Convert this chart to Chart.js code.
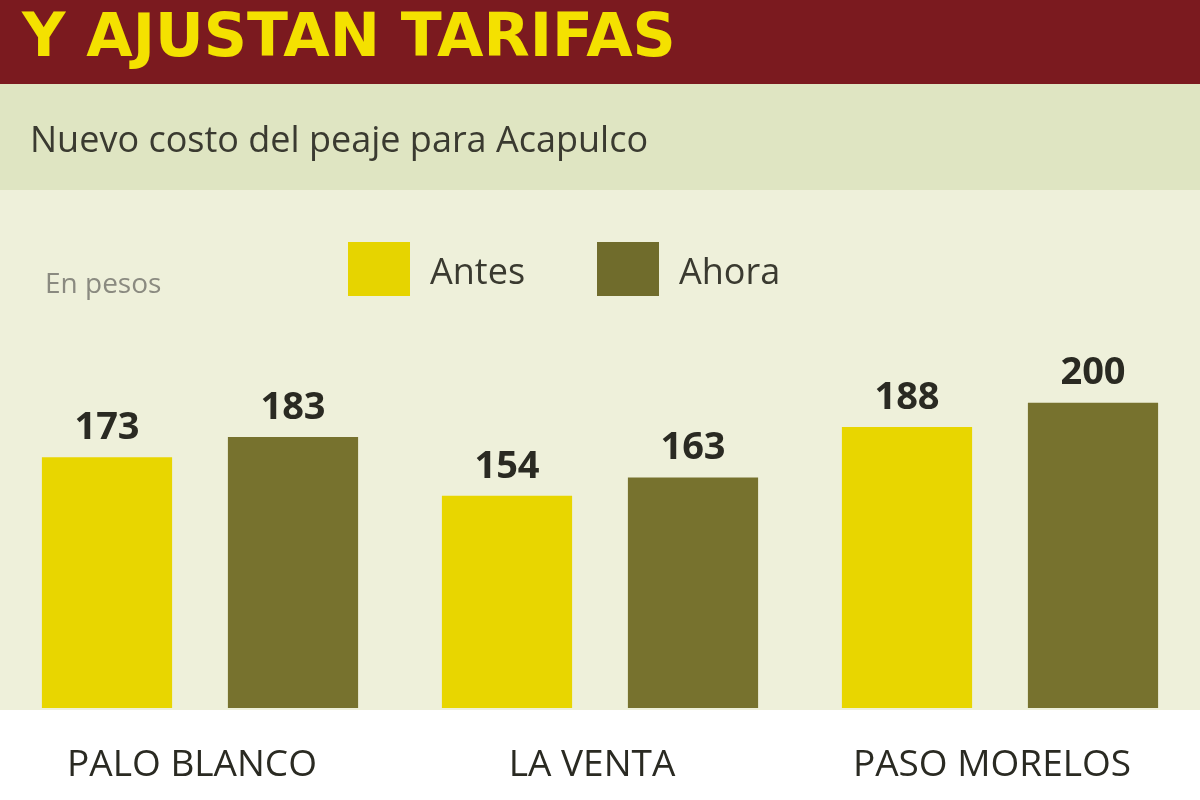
<!DOCTYPE html>
<html><head><meta charset="utf-8">
<script src="https://cdn.jsdelivr.net/npm/chart.js@4/dist/chart.umd.min.js"></script>
<style>html,body{margin:0;padding:0;background:#fff}#w{width:1200px;height:800px;position:relative}</style>
</head><body><div id="w"><canvas id="c" width="1200" height="800"></canvas></div>
<script>
const categories = ["PALO BLANCO", "LA VENTA", "PASO MORELOS"];
const antes = [173, 154, 188];
const ahora = [183, 163, 200];
const seriesNames = ["Antes", "Ahora"];
const title = "Y AJUSTAN TARIFAS";
const subtitle = "Nuevo costo del peaje para Acapulco";
const unitLabel = "En pesos";

const bg = {
  id: 'bg',
  beforeDraw(ch) {
    const c = ch.ctx;
    c.save();
    c.fillStyle = '#eef0da'; c.fillRect(0, 0, 1200, 800);
    c.fillStyle = '#7b1a1f'; c.fillRect(0, 0, 1200, 84);
    c.fillStyle = '#dfe5c2'; c.fillRect(0, 84, 1200, 106);
    c.fillStyle = '#ffffff'; c.fillRect(0, 710, 1200, 90);
    c.textBaseline = 'middle';
    c.fillStyle = '#f4e100'; c.font = 'bold 60px "DejaVu Sans"';
    c.fillText(title, 22, 40);
    c.fillStyle = '#3a3a30'; c.font = '36px "Open Sans"';
    c.fillText(subtitle, 30, 142);
    c.fillStyle = '#8a8a80'; c.font = '28px "Open Sans"';
    c.fillText(unitLabel, 45, 285);
    const cols = ['#e6d400', '#706c2c'];
    const lx = [348, 597];
    seriesNames.forEach((n, i) => {
      c.fillStyle = cols[i]; c.fillRect(lx[i], 242, 62, 54);
      c.fillStyle = '#3a3a30'; c.font = '36px "Open Sans"';
      c.fillText(n, lx[i] + 82, 274);
    });
    c.restore();
  },
  afterDatasetsDraw(ch) {
    const c = ch.ctx;
    c.save();
    c.textAlign = 'center'; c.textBaseline = 'bottom';
    c.fillStyle = '#2a2a22'; c.font = 'bold 38px "Open Sans"';
    ch.data.datasets.forEach((ds, di) => {
      ch.getDatasetMeta(di).data.forEach((b, i) => {
        c.fillText(ds.data[i], b.x, b.y - 10);
      });
    });
    c.textBaseline = 'middle'; c.font = '37px "Open Sans"'; c.fillStyle = '#2a2a22';
    const xs = ch.scales.x;
    categories.forEach((n, i) => c.fillText(n, xs.getPixelForValue(i) - 8, 765));
    c.restore();
  }
};

function grad(color1, color2) {
  return (ctx) => {
    const el = ctx.element; const ch = ctx.chart;
    if (!el || el.x === undefined) return color1;
    const w = 130;
    const g = ch.ctx.createLinearGradient(el.x - w / 2, el.y, el.x + w / 2, ch.chartArea.bottom);
    g.addColorStop(0, color1); g.addColorStop(0.5, color1); g.addColorStop(1, color2);
    return g;
  };
}

new Chart(document.getElementById('c'), {
  type: 'bar',
  data: {
    labels: categories,
    datasets: [
      { label: seriesNames[0], data: antes, backgroundColor: grad('#e8d600', '#b8a800') },
      { label: seriesNames[1], data: ahora, backgroundColor: grad('#77722e', '#5a5622') }
    ]
  },
  options: {
    responsive: false, animation: false,
    layout: { padding: { top: 250, bottom: 92, left: 0, right: 0 } },
    plugins: { legend: { display: false }, tooltip: { enabled: false } },
    datasets: { bar: { categoryPercentage: 0.93, barPercentage: 0.7 } },
    scales: {
      x: { display: false },
      y: { display: false, min: 49, max: 275.5 }
    }
  },
  plugins: [bg]
});
</script></body></html>
